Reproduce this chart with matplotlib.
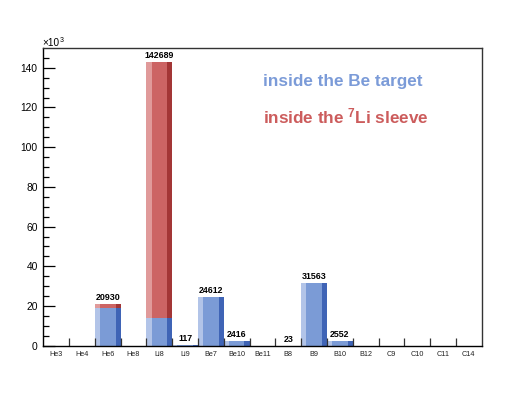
import matplotlib
matplotlib.use("Agg")
import matplotlib.pyplot as plt
import numpy as np
from matplotlib.ticker import MultipleLocator, FixedLocator

plt.rcParams['font.family'] = ['Liberation Sans', 'DejaVu Sans']
plt.rcParams['mathtext.fontset'] = 'custom'
plt.rcParams['mathtext.rm'] = 'Liberation Sans:bold'
plt.rcParams['mathtext.it'] = 'Liberation Sans:bold'
plt.rcParams['mathtext.bf'] = 'Liberation Sans:bold'

isotopes = ["He3", "He4", "He6", "He8", "Li8", "Li9", "Be7", "Be10", "Be11",
            "B8", "B9", "B10", "B12", "C9", "C10", "C11", "C14"]
be_target = [0, 0, 19200, 0, 13800, 117, 24612, 2416, 0,
             23, 31563, 2552, 0, 0, 0, 0, 0]
li_sleeve = [0, 0, 1730, 0, 128889, 0, 0, 0, 0,
             0, 0, 0, 0, 0, 0, 0, 0]

blue = np.array(be_target) / 1000.0
red = np.array(li_sleeve) / 1000.0
total = blue + red
x = np.arange(len(isotopes))

fig = plt.figure(figsize=(5.26, 3.95), dpi=100)
ax = fig.add_axes([0.0823, 0.1248, 0.8335, 0.7529])

def shaded(ax, heights, light, mid, dark):
    ax.bar(x, heights, width=0.2, align='edge', color=light, linewidth=0)
    ax.bar(x + 0.2, heights, width=0.6, align='edge', color=mid, linewidth=0)
    ax.bar(x + 0.8, heights, width=0.2, align='edge', color=dark, linewidth=0)

shaded(ax, total, '#E09A9A', '#CC6464', '#A33636')
shaded(ax, blue, '#B2C4E8', '#7B9BD6', '#3F64B6')

for xi, t in zip(x, total):
    if t > 0:
        ax.annotate(f"{int(round(t*1000))}", (xi + 0.5, t), xytext=(0, 1.5),
                    textcoords='offset points', ha='center', va='bottom',
                    fontsize=6.4, fontweight='bold', color='black')

ax.set_xlim(0, len(isotopes))
ax.set_ylim(0, 149.8)

ax.xaxis.set_major_locator(FixedLocator(x + 0.5))
ax.set_xticklabels(isotopes, fontsize=5.2, color='#222222')
ax.xaxis.set_minor_locator(FixedLocator(np.arange(1, len(isotopes))))
ax.tick_params(axis='x', which='major', length=0, pad=4)
ax.tick_params(axis='x', which='minor', direction='in', length=6, width=0.9, color='#333333')

ax.yaxis.set_major_locator(MultipleLocator(20))
ax.yaxis.set_minor_locator(MultipleLocator(5))
ax.tick_params(axis='y', which='major', direction='in', length=8.8, width=0.9,
               labelsize=7.4, pad=4)
ax.tick_params(axis='y', which='minor', direction='in', length=4.4, width=0.9)

for s in ['left', 'bottom']:
    ax.spines[s].set_linewidth(1.0)
    ax.spines[s].set_color('black')
for s in ['top', 'right']:
    ax.spines[s].set_linewidth(1.0)
    ax.spines[s].set_color('#333333')

fig.text(42 / 526, 1 - 46.5 / 395, "\u00d710", fontsize=7.2, ha='left', va='baseline')
fig.text(59.5 / 526, 1 - 42 / 395, "3", fontsize=5, ha='left', va='baseline')

fig.text(263 / 526, 1 - 86 / 395, "inside the Be target", fontsize=12.3,
         fontweight='bold', color='#7B9BD8', ha='left', va='baseline')
fig.text(263 / 526, 1 - 123.3 / 395, r"inside the $^{7}$Li sleeve", fontsize=12.3,
         fontweight='bold', color='#CC5C5C', ha='left', va='baseline')

fig.savefig("out.png", dpi=100)
